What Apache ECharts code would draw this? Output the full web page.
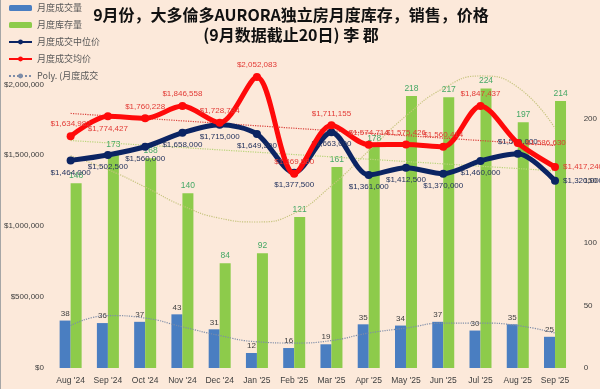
<!DOCTYPE html>
<html>
<head>
<meta charset="utf-8">
<script src="https://cdn.jsdelivr.net/npm/echarts@6/dist/echarts.min.js"></script>
<style>
html,body{margin:0;padding:0;background:#FCE9DA;}
#chart{width:600px;height:389px;}
</style>
</head>
<body>
<div id="chart"></div>
<script>
const categories = ["Aug '24","Sep '24","Oct '24","Nov '24","Dec '24","Jan '25","Feb '25","Mar '25","Apr '25","May '25","Jun '25","Jul '25","Aug '25","Sep '25"];
const salesVolume = [38,36,37,43,31,12,16,19,35,34,37,30,35,25];
const inventory = [148,173,168,140,84,92,121,161,178,218,217,224,197,214];
const medianPrice = [1464000,1502500,1560000,1658000,1715000,1649500,1377500,1663000,1361000,1412500,1370000,1460000,1510000,1320000];
const avgPrice = [1634982,1774427,1760228,1846558,1728784,2052083,1369580,1711155,1574714,1575426,1560414,1847437,1586630,1417240];
// trendlines
const salesTrend = [34,42,40,33,26,21,20,22,28,32,36,36,34,28];
const inventoryTrend = [170,159,145,130,120,117,124,146,174,202,224,234,225,192];
const avgTrend = [1795000,null,null,null,null,null,null,null,null,null,null,null,null,1569000];
const medianTrend = [1604000,null,null,null,null,null,null,null,null,null,null,null,null,1390000];
const leftTicks = [0,500000,1000000,1500000,2000000];
const rightTicks = [0,50,100,150,200];

const names = {
  sales: '月度成交量', inv: '月度库存量', median: '月度成交中位价', avg: '月度成交均价', poly: 'Poly. (月度成交量)'
};

const medianPos = ['bottom','bottom','bottom','bottom','bottom','bottom','bottom','bottom','bottom','bottom','bottom','bottom','top','right'];
const avgPos = ['top','bottom','top','top','top','top','top','top','top','top','top','top','right','right'];

const money = v => '$' + Math.round(v).toLocaleString('en-US');

const chart = echarts.init(document.getElementById('chart'));
chart.setOption({
  backgroundColor: '#FCE9DA',
  animation: false,
  title: {
    text: '9月份，大多倫多AURORA独立房月度库存，销售，价格\n(9月数据截止20日) 李 郡',
    left: 286, top: 0, textAlign: 'center',
    textStyle: {fontFamily: 'Noto Sans CJK SC', fontSize: 16, fontWeight: 'bold', color: '#111', lineHeight: 20}
  },
  legend: {
    orient: 'vertical', left: 3, top: -3, itemGap: 5, itemWidth: 23, itemHeight: 6,
    data: [names.sales, names.inv, names.median, names.avg, names.poly],
    textStyle: {fontFamily: 'Noto Sans CJK SC', fontSize: 9, color: '#595959', lineHeight: 12},
    formatter: n => n === names.poly ? 'Poly. (月度成交' : n
  },
  grid: {left: 52, right: 22, top: 56, bottom: 21, containLabel: false},
  xAxis: {
    type: 'category', data: categories,
    axisLine: {show: false}, axisTick: {show: false},
    axisLabel: {color: '#404040', fontSize: 8.5, fontFamily: 'Liberation Sans', margin: 8, interval: 0}
  },
  yAxis: [
    {type: 'value', min: 0, max: 2200000, interval: 500000, splitLine: {show: false},
     axisLine: {show: false}, axisTick: {show: false},
     axisLabel: {color: '#404040', fontSize: 8, fontFamily: 'Liberation Sans', margin: 8,
       formatter: v => leftTicks.indexOf(v) >= 0 ? money(v) : ''}},
    {type: 'value', min: 0, max: 250, interval: 50, splitLine: {show: false},
     axisLine: {show: false}, axisTick: {show: false},
     axisLabel: {color: '#404040', fontSize: 8, fontFamily: 'Liberation Sans', margin: 10,
       formatter: v => rightTicks.indexOf(v) >= 0 ? String(v) : ''}}
  ],
  series: [
    {name: names.sales, type: 'bar', yAxisIndex: 1, data: salesVolume, barWidth: 11, barGap: '0%',
     itemStyle: {color: '#4A7EC1'}, z: 2,
     label: {show: true, position: 'top', fontSize: 8, color: '#404040', fontFamily: 'Liberation Sans', distance: 3}},
    {name: names.inv, type: 'bar', yAxisIndex: 1, data: inventory, barWidth: 11, barGap: '0%',
     itemStyle: {color: '#8DCB4B'}, z: 2,
     label: {show: true, position: 'top', fontSize: 8.5, color: '#45A865', fontFamily: 'Liberation Sans', distance: 3}},
    {name: names.poly, type: 'line', yAxisIndex: 1, data: salesTrend, smooth: 0.5, symbol: 'none',
     lineStyle: {color: '#7E8DA8', width: 1.2, type: 'dotted'}, itemStyle: {color: '#7E8DA8'}, z: 3},
    {name: 'inventoryTrend', type: 'line', yAxisIndex: 1, data: inventoryTrend, smooth: 0.5, symbol: 'none',
     lineStyle: {color: '#C6C47E', width: 1.2, type: 'dotted'}, z: 3},
    {name: 'medianTrend', type: 'line', data: medianTrend, connectNulls: true, symbol: 'none',
     lineStyle: {color: '#B9D47A', width: 1.2, type: 'dotted'}, z: 3},
    {name: 'avgTrend', type: 'line', data: avgTrend, connectNulls: true, symbol: 'none',
     lineStyle: {color: '#D9403A', width: 1.2, type: 'dotted'}, z: 3},
    {name: names.median, type: 'line', smooth: 0.3, symbol: 'circle', symbolSize: 8,
     data: medianPrice.map((v, i) => ({value: v, label: {position: medianPos[i]}})),
     lineStyle: {color: '#0B2463', width: 5}, itemStyle: {color: '#0B2463'}, z: 4,
     label: {show: true, fontSize: 8, color: '#24335E', fontFamily: 'Liberation Sans', distance: 4,
       formatter: p => money(p.value)}},
    {name: names.avg, type: 'line', smooth: 0.3, symbol: 'circle', symbolSize: 8,
     data: avgPrice.map((v, i) => ({value: v, label: {position: avgPos[i]}})),
     lineStyle: {color: '#FF0A0A', width: 5}, itemStyle: {color: '#FF0A0A'}, z: 5,
     label: {show: true, fontSize: 8, color: '#E23A35', fontFamily: 'Liberation Sans', distance: 4,
       formatter: p => money(p.value)}}
  ],
  graphic: [
    {type: 'line', shape: {x1: 0.5, y1: 0, x2: 0.5, y2: 389}, style: {stroke: '#A6A6A6', lineWidth: 1}}
  ]
});
</script>
</body>
</html>
